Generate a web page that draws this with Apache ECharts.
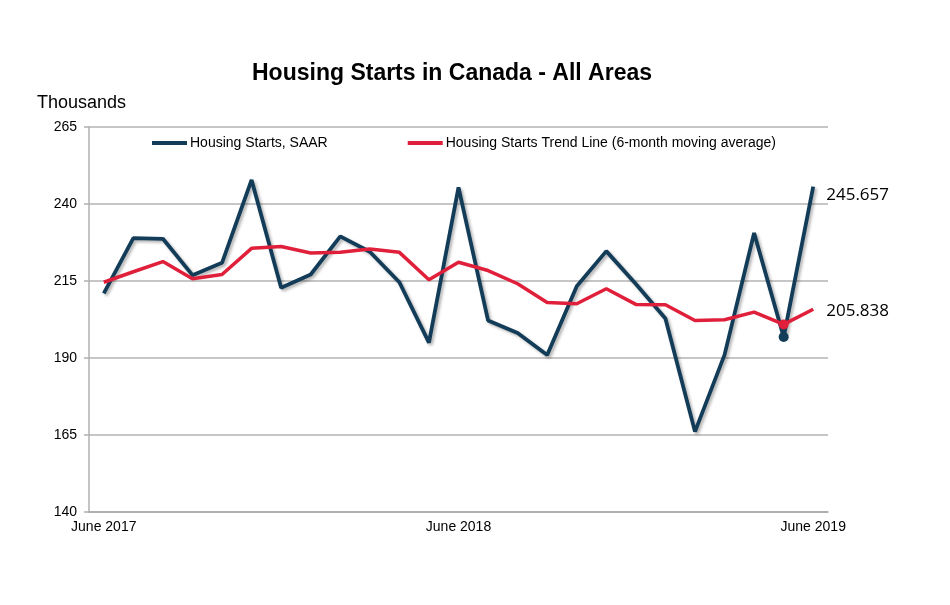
<!DOCTYPE html>
<html>
<head>
<meta charset="utf-8">
<script src="https://cdn.jsdelivr.net/npm/echarts@6/dist/echarts.min.js"></script>
<style>html,body{margin:0;padding:0;background:#fff}#c{width:950px;height:605px}</style>
</head>
<body>
<div id="c"></div>
<script>
var months = ['June 2017','July 2017','August 2017','September 2017','October 2017','November 2017','December 2017',
  'January 2018','February 2018','March 2018','April 2018','May 2018','June 2018','July 2018','August 2018',
  'September 2018','October 2018','November 2018','December 2018','January 2019','February 2019','March 2019',
  'April 2019','May 2019','June 2019'];
var starts = [211, 228.9, 228.7, 216.9, 220.9, 247.8, 212.8, 217.1, 229.5, 224.5, 214.6, 195, 245.4,
  202.2, 198.1, 191, 213.3, 224.7, 214, 202.8, 166.1, 191, 230.6, 196.8, 245.657];
var trend = [214.6, 218, 221.3, 215.7, 217.1, 225.6, 226.2, 224.1, 224.3, 225.4, 224.3, 215.4, 221.1,
  218.4, 214.1, 208, 207.6, 212.5, 207.4, 207.3, 202.2, 202.4, 204.9, 200.9, 205.838];
var yTicks = [140, 165, 190, 215, 240, 265];
var markedIndex = 23;

var chart = echarts.init(document.getElementById('c'), null, {renderer: 'canvas'});
function sizeFn(s) { return function (v, p) { return p.dataIndex === markedIndex ? s : 0; }; }
chart.setOption({
  backgroundColor: '#ffffff',
  animation: false,
  title: [
    {text: 'Housing Starts in Canada - All Areas', left: 247, top: 57,
     textStyle: {fontFamily: '"Liberation Sans Narrow", "Liberation Sans", Arial', fontWeight: 'bold', fontSize: 23, color: '#000'}},
    {text: 'Thousands', left: 32, top: 89,
     textStyle: {fontFamily: '"Liberation Sans Narrow", "Liberation Sans", Arial', fontWeight: 'normal', fontSize: 18, color: '#000'}}
  ],
  legend: {
    left: 147, top: 131, itemWidth: 35, itemHeight: 4, itemGap: 80, icon: 'rect',
    textStyle: {fontFamily: '"Liberation Sans", Arial', fontSize: 14, color: '#000', padding: [0,0,0,-2]},
    data: ['Housing Starts, SAAR', 'Housing Starts Trend Line (6-month moving average)']
  },
  grid: {left: 89, right: 122, top: 127, bottom: 93},
  xAxis: {
    type: 'category', data: months, boundaryGap: true,
    axisLine: {lineStyle: {color: '#a8a8a8', width: 1.5}},
    axisTick: {show: false},
    axisLabel: {interval: 11, margin: 8, fontFamily: '"Liberation Sans", Arial', fontSize: 14, color: '#000'}
  },
  yAxis: {
    type: 'value', min: yTicks[0], max: yTicks[yTicks.length - 1], interval: 25,
    axisLine: {show: true, lineStyle: {color: '#b0b0b0', width: 1.5}},
    axisTick: {show: true, length: 5, lineStyle: {color: '#b0b0b0', width: 1.5}},
    splitLine: {lineStyle: {color: '#b3b3b3', width: 1.5}},
    axisLabel: {margin: 12, fontFamily: '"Liberation Sans", Arial', fontSize: 14, color: '#000'}
  },
  series: [
    {
      name: 'Housing Starts, SAAR', type: 'line', data: starts, color: '#123c58',
      showSymbol: true, showAllSymbol: true, symbol: 'circle', symbolSize: sizeFn(10),
      itemStyle: {color: '#123c58'},
      lineStyle: {width: 3.8, color: '#123c58', shadowColor: 'rgba(0,0,0,0.3)', shadowBlur: 3, shadowOffsetX: 2, shadowOffsetY: 2},
      endLabel: {show: true, formatter: function (p) { return p.value.toFixed(3); }, distance: 13, offset: [0, 9],
        fontFamily: '"Open Sans", Lato, sans-serif', fontSize: 17, color: '#000'},
      z: 2
    },
    {
      name: 'Housing Starts Trend Line (6-month moving average)', type: 'line', data: trend, color: '#e0203a',
      showSymbol: true, showAllSymbol: true, symbol: 'circle', symbolSize: sizeFn(10),
      itemStyle: {color: '#e0203a'},
      lineStyle: {width: 3.5, color: '#e0203a'},
      endLabel: {show: true, formatter: function (p) { return p.value.toFixed(3); }, distance: 13, offset: [0, 2],
        fontFamily: '"Open Sans", Lato, sans-serif', fontSize: 17, color: '#000'},
      z: 3
    }
  ]
});
</script>
</body>
</html>
